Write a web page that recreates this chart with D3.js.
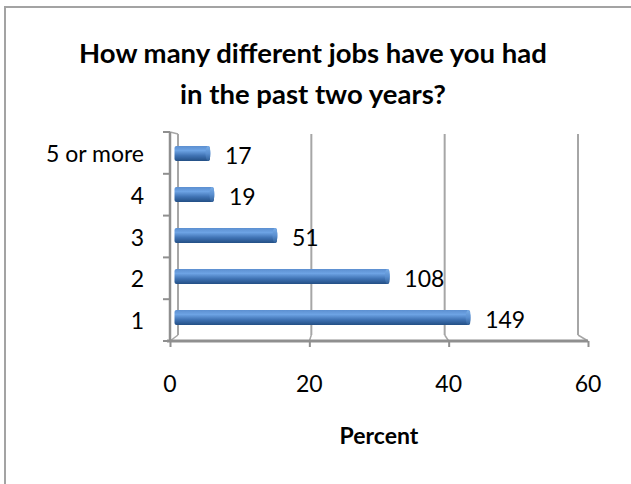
<!DOCTYPE html>
<html>
<head>
<meta charset="utf-8">
<script src="https://cdn.jsdelivr.net/npm/d3@7"></script>
<style>
  html, body { margin: 0; padding: 0; background: #ffffff; }
  svg { display: block; font-family: Lato, "Open Sans", sans-serif; }
</style>
</head>
<body>
<svg id="chart" width="631" height="484"></svg>
<script>
// Survey answers: number of jobs held in the past two years
const categories = ["5 or more", "4", "3", "2", "1"];
const counts = [17, 19, 51, 108, 149];
const xTicks = [0, 20, 40, 60];
const titleLines = ["How many different jobs have you had", "in the past two years?"];
const xTitle = "Percent";

const total = d3.sum(counts);
const rows = categories.map((c, i) => ({ cat: c, count: counts[i], pct: counts[i] / total * 100 }));

const svg = d3.select("#chart");

// outer frame
svg.append("rect")
  .attr("x", 5).attr("y", 7).attr("width", 640).attr("height", 490)
  .attr("fill", "#fff").attr("stroke", "#a3a3a3").attr("stroke-width", 2);

// perspective: front edge, back wall, and the bars sitting in between
const xFront = d3.scaleLinear().domain([0, 60]).range([170, 588]);
const xBack = d3.scaleLinear().domain([0, 60]).range([178, 578]);
const xMid = d3.scaleLinear().domain([0, 60]).range([176.5, 583.3]);
const yFront = d3.scaleBand().domain(categories).range([132, 341]);
const yMid = d3.scaleBand().domain(categories).range([133, 338]);
const backTop = 134, backBottom = 335, frontBottom = 341;

const grid = "#a6a6a6";
const axisCol = "#8f8f8f";

// back wall gridlines with their floor slants
const g = svg.append("g");
xTicks.forEach(t => {
  if (t === 0) return;
  g.append("line")
    .attr("x1", xBack(t)).attr("x2", xBack(t))
    .attr("y1", backTop).attr("y2", backBottom)
    .attr("stroke", grid).attr("stroke-width", 2);
  g.append("line")
    .attr("x1", xBack(t)).attr("y1", backBottom)
    .attr("x2", xFront(t)).attr("y2", frontBottom)
    .attr("stroke", grid).attr("stroke-width", 1.5);
});
// back wall left edge and its links to the front corner
g.append("line")
  .attr("x1", xBack(0)).attr("x2", xBack(0))
  .attr("y1", backTop).attr("y2", backBottom)
  .attr("stroke", grid).attr("stroke-width", 2);
g.append("line")
  .attr("x1", xBack(0)).attr("y1", backBottom)
  .attr("x2", xFront(0)).attr("y2", frontBottom)
  .attr("stroke", grid).attr("stroke-width", 1.5);
g.append("line")
  .attr("x1", xFront(0)).attr("y1", yFront.range()[0])
  .attr("x2", xBack(0)).attr("y2", backTop)
  .attr("stroke", grid).attr("stroke-width", 1.5);

// bar gradient (cylinder shading)
const defs = svg.append("defs");
const grad = defs.append("linearGradient").attr("id", "barGrad")
  .attr("x1", 0).attr("y1", 0).attr("x2", 0).attr("y2", 1);
grad.append("stop").attr("offset", "0%").attr("stop-color", "#5c8fd0");
grad.append("stop").attr("offset", "30%").attr("stop-color", "#6da3e4");
grad.append("stop").attr("offset", "65%").attr("stop-color", "#3f72b3");
grad.append("stop").attr("offset", "100%").attr("stop-color", "#234f85");
const capGrad = defs.append("linearGradient").attr("id", "capGrad")
  .attr("x1", 0).attr("y1", 0).attr("x2", 0).attr("y2", 1);
capGrad.append("stop").attr("offset", "0%").attr("stop-color", "#7aaee8");
capGrad.append("stop").attr("offset", "50%").attr("stop-color", "#5a8fd0");
capGrad.append("stop").attr("offset", "100%").attr("stop-color", "#2f5f98");

const barH = 15;
const bars = svg.append("g").selectAll("g").data(rows).join("g");
bars.append("rect")
  .attr("x", xMid(0) - 2)
  .attr("y", d => yMid(d.cat) + yMid.bandwidth() / 2 - barH / 2)
  .attr("width", d => xMid(d.pct) - xMid(0) + 2)
  .attr("height", barH)
  .attr("rx", 2)
  .attr("fill", "url(#barGrad)");
bars.append("ellipse")
  .attr("cx", d => xMid(d.pct) - 2)
  .attr("cy", d => yMid(d.cat) + yMid.bandwidth() / 2)
  .attr("rx", 2.5).attr("ry", barH / 2)
  .attr("fill", "url(#capGrad)");

// value labels (counts)
bars.append("text")
  .attr("x", d => xMid(d.pct) + 15)
  .attr("y", d => yMid(d.cat) + yMid.bandwidth() / 2 + 10)
  .attr("font-size", 23).attr("fill", "#000")
  .text(d => d.count);

// front vertical axis with category boundary ticks
svg.append("line")
  .attr("x1", xFront(0)).attr("x2", xFront(0))
  .attr("y1", yFront.range()[0]).attr("y2", frontBottom)
  .attr("stroke", axisCol).attr("stroke-width", 2.5);
const yBounds = yFront.domain().map(c => yFront(c)).concat([yFront.range()[1]]);
svg.append("g").selectAll("line").data(yBounds).join("line")
  .attr("x1", xFront(0) - 7).attr("x2", xFront(0))
  .attr("y1", d => d).attr("y2", d => d)
  .attr("stroke", axisCol).attr("stroke-width", 2);

// front horizontal axis
const xAxis = d3.axisBottom(xFront).tickValues(xTicks).tickSize(6).tickFormat("");
const xAxisG = svg.append("g").attr("transform", `translate(0,${frontBottom})`).call(xAxis);
xAxisG.select(".domain").attr("stroke", axisCol).attr("stroke-width", 3)
  .attr("d", `M${xFront(0) - 3},0H${xFront(60)}`);
xAxisG.selectAll(".tick line").attr("stroke", axisCol).attr("stroke-width", 2);

// category labels
svg.append("g").selectAll("text").data(categories).join("text")
  .attr("x", 144)
  .attr("y", d => yFront(d) + yFront.bandwidth() / 2 + 9)
  .attr("text-anchor", "end")
  .attr("font-size", 23).attr("fill", "#000")
  .text(d => d);

// x tick labels
svg.append("g").selectAll("text").data(xTicks).join("text")
  .attr("x", d => xFront(d))
  .attr("y", 392)
  .attr("text-anchor", "middle")
  .attr("font-size", 23).attr("fill", "#000")
  .text(d => d);

// axis title
svg.append("text")
  .attr("x", 379).attr("y", 444)
  .attr("text-anchor", "middle")
  .attr("font-size", 23).attr("font-weight", "bold").attr("fill", "#000")
  .text(xTitle);

// chart title
svg.append("g").selectAll("text").data(titleLines).join("text")
  .attr("x", 313)
  .attr("y", (d, i) => 63 + i * 41)
  .attr("text-anchor", "middle")
  .attr("font-size", 27.5).attr("font-weight", "bold").attr("fill", "#000")
  .text(d => d);
</script>
</body>
</html>
